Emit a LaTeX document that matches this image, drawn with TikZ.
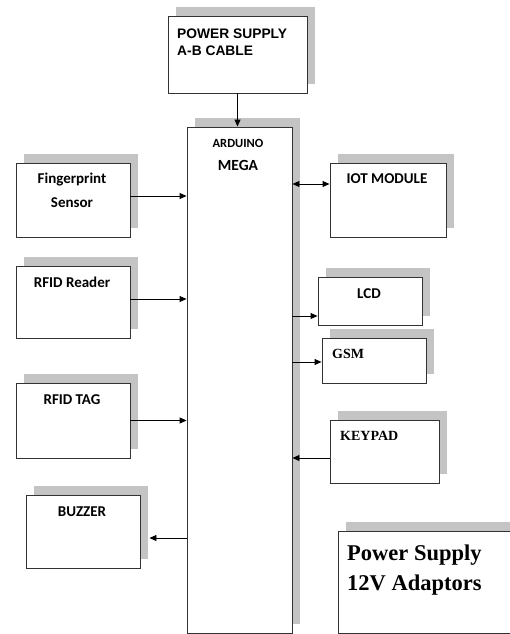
\documentclass[tikz,border=0pt]{standalone}
\usepackage{fontspec}
\usetikzlibrary{arrows.meta,shadows}
\newfontfamily\arialf{Liberation Sans}
\newfontfamily\calf{Carlito}
\newfontfamily\timesf{Liberation Serif}
\definecolor{shgray}{HTML}{C4C4C4}
\definecolor{edge}{HTML}{333333}
\tikzset{
  blk/.style={draw=edge, line width=0.9pt, fill=white, rectangle, inner sep=0pt,
    general shadow={fill=shgray, shadow xshift=8pt, shadow yshift=9pt}},
  lbl/.style={inner sep=0pt, font=\calf\bfseries\fontsize{15}{18}\selectfont},
  tlbl/.style={inner sep=0pt, anchor=west, font=\timesf\bfseries\fontsize{14}{17}\selectfont},
  albl/.style={inner sep=0pt, anchor=base west, font=\arialf\bfseries\fontsize{13.8}{17}\selectfont},
  plbl/.style={inner sep=0pt, anchor=base west, font=\timesf\bfseries\fontsize{22.5}{29}\selectfont},
  conn/.style={line width=0.9pt, -{Triangle[length=7pt,width=6pt]}},
  dconn/.style={line width=0.9pt, {Triangle[length=7pt,width=6pt]}-{Triangle[length=7pt,width=6pt]}}
}
\begin{document}
\begin{tikzpicture}[x=1pt,y=-1pt]
\clip (0,0) rectangle (510,634);
\fill[white] (0,0) rectangle (510,634);
% boxes
\node[blk, minimum width=139pt, minimum height=77pt] (psab) at (237.5,54.5) {};
\node[blk, minimum width=105pt, minimum height=506pt] (ard) at (239.5,380) {};
\node[blk, minimum width=114pt, minimum height=74pt] (fp) at (73,200) {};
\node[blk, minimum width=114pt, minimum height=72pt] (rfidr) at (73,302) {};
\node[blk, minimum width=114pt, minimum height=75pt] (rfidt) at (73,420.5) {};
\node[blk, minimum width=114pt, minimum height=73pt] (buz) at (83,531.5) {};
\node[blk, minimum width=116pt, minimum height=74pt] (iot) at (388,200) {};
\node[blk, minimum width=104pt, minimum height=48pt] (lcd) at (370,301) {};
\node[blk, minimum width=104pt, minimum height=45pt] (gsm) at (374,360.5) {};
\node[blk, minimum width=109pt, minimum height=63pt] (key) at (384.5,451.5) {};
\node[blk, minimum width=176pt, minimum height=102pt] (ps) at (426,582) {};
% texts
\node[albl] (psabT1) at (177,38) {POWER SUPPLY};
\node[albl] (psabT2) at (177,56) {A-B CABLE};
\node[lbl, font=\calf\bfseries\fontsize{12.5}{15}\selectfont] (ardT1) at (238,143) {ARDUINO};
\node[lbl, font=\calf\bfseries\fontsize{15.5}{18}\selectfont] (ardT2) at (238,165) {MEGA};
\node[lbl] (fpT1) at (72,180) {Fingerprint};
\node[lbl] (fpT2) at (72,203) {Sensor};
\node[lbl] (rfidrT) at (72,282) {RFID Reader};
\node[lbl] (rfidtT) at (72,400) {RFID TAG};
\node[lbl] (buzT) at (82,512) {BUZZER};
\node[lbl] (iotT) at (387,179) {IOT MODULE};
\node[lbl] (lcdT) at (369,294) {LCD};
\node[tlbl] (gsmT) at (332,354) {GSM};
\node[tlbl] (keyT) at (340,436) {KEYPAD};
\node[plbl] (psT1) at (347,560) {Power Supply};
\node[plbl] (psT2) at (347,590) {12V Adaptors};
% connectors
\draw[conn] (psab.south) -- (psab.south |- ard.north);
\draw[conn] ([yshift=4pt]fp.east) -- ([yshift=4pt]fp.east -| ard.west);
\draw[conn] ([yshift=3pt]rfidr.east) -- ([yshift=3pt]rfidr.east -| ard.west);
\draw[conn] (rfidt.east) -- (rfidt.east -| ard.west);
\coordinate (buzIn) at ([xshift=9pt,yshift=-6.5pt]buz.east);
\draw[conn] (buzIn -| ard.west) -- (buzIn);
\draw[dconn] ([yshift=16pt]iot.west -| ard.east) -- ([yshift=16pt]iot.west);
\draw[conn] ([yshift=-15pt]lcd.west -| ard.east) -- ([yshift=-15pt]lcd.west);
\draw[conn] ([yshift=-1.5pt]gsm.west -| ard.east) -- ([yshift=-1.5pt]gsm.west);
\draw[conn] ([yshift=-6.5pt]key.west) -- ([yshift=-6.5pt]key.west -| ard.east);
\end{tikzpicture}
\end{document}
